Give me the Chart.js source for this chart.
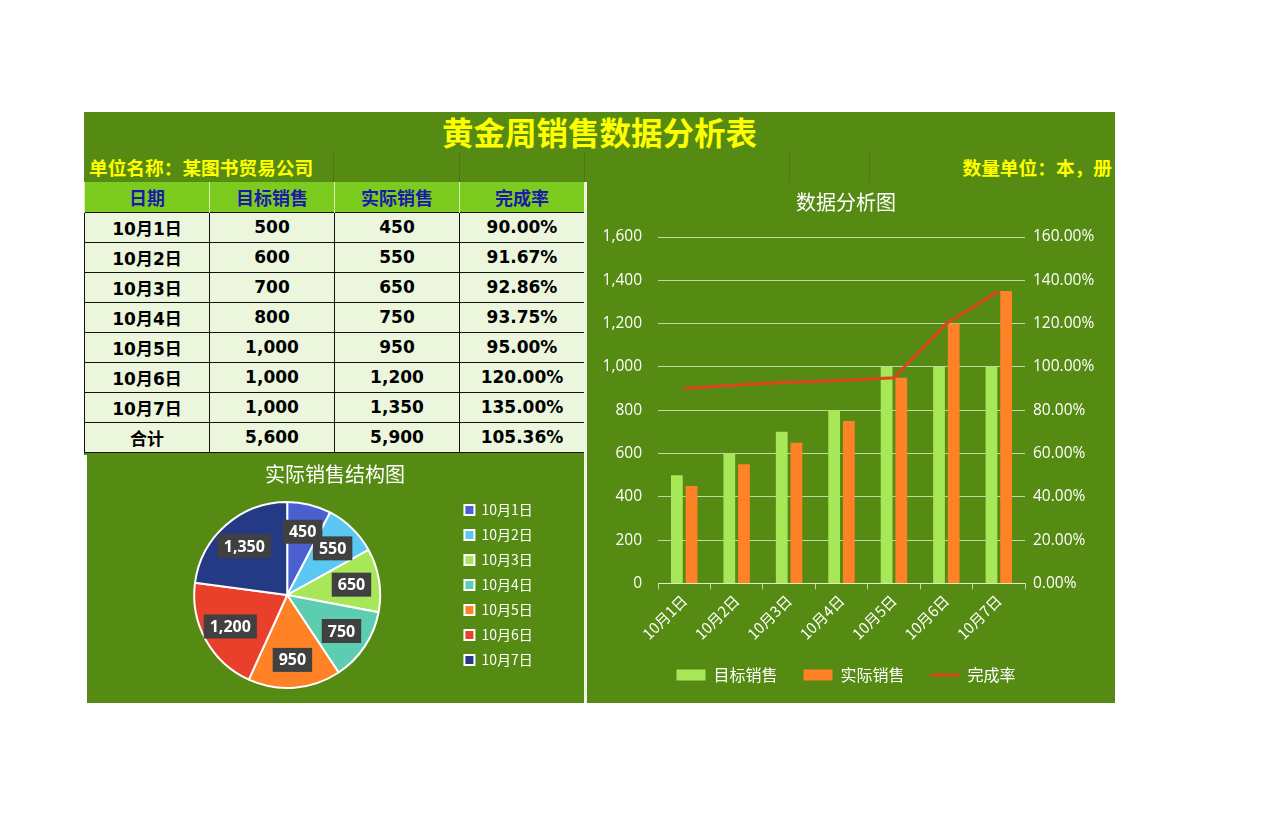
<!DOCTYPE html>
<html>
<head>
<meta charset="utf-8">
<script src="https://cdn.jsdelivr.net/npm/chart.js@4.4.1/dist/chart.umd.min.js"></script>
<style>
  body { margin: 0; background: #fff; width: 1280px; height: 837px; position: relative; overflow: hidden; }
  .blk { position: absolute; background: #558b12; }
  #titleBar { left: 84px; top: 112px; width: 1031px; height: 40px; color: #ffff00; font: bold 31.5px "Noto Sans CJK SC", sans-serif; text-align: center; line-height: 38px; }
  #infoBar { left: 84px; top: 152px; width: 1031px; height: 30px; color: #ffff00; font: bold 18.7px "Noto Sans CJK SC", sans-serif; line-height: 30px; }
  #infoBar .l { position: absolute; left: 5px; }
  #infoBar .r { position: absolute; right: 3px; }
  #infoBar .v { position: absolute; top: 0; width: 1px; height: 30px; background: rgba(0,0,0,0.12); }
  #tblBox { left: 84px; top: 182px; width: 500px; height: 273px; }
  #tbl { position: absolute; left: 0; top: 0; border-collapse: collapse; table-layout: fixed; width: 500px; }
  #tbl td, #tbl th { width: 125px; height: 30px; box-sizing: border-box; padding: 0; text-align: center; font: bold 17px "DejaVu Sans", "Noto Sans CJK SC", sans-serif; }
  #tbl th { background: #7ccc1f; color: #1a1aa8; font: bold 18px "Noto Sans CJK SC", sans-serif; border-left: 1px solid #d8f0b8; border-right: 1px solid #d8f0b8; }
  #tbl td { background: #ebf6dd; color: #000; border: 1.5px solid #111; }
  #pieBox { left: 87px; top: 455px; width: 497px; height: 248px; }
  #barBox { left: 587px; top: 182px; width: 528px; height: 521px; }
  #sep { position: absolute; left: 584px; top: 182px; width: 3px; height: 521px; background: #eef4e6; }
  canvas { position: absolute; left: 0; top: 0; }
</style>
</head>
<body>
<div class="blk" id="titleBar">黄金周销售数据分析表</div>
<div class="blk" id="infoBar">
  <span class="l">单位名称：某图书贸易公司</span>
  <div class="v" style="left:249px"></div>
  <div class="v" style="left:375px"></div>
  <div class="v" style="left:500px"></div>
  <div class="v" style="left:705px"></div>
  <div class="v" style="left:785px"></div>
  <span class="r">数量单位：本，册</span>
</div>
<div class="blk" id="tblBox"><table id="tbl"></table></div>
<div class="blk" id="pieBox"><canvas id="pieChart" width="497" height="248"></canvas></div>
<div class="blk" id="barBox"><canvas id="barChart" width="528" height="521"></canvas></div>
<div id="sep"></div>
<script>
const dates = ['10月1日', '10月2日', '10月3日', '10月4日', '10月5日', '10月6日', '10月7日'];
const targetSales = [500, 600, 700, 800, 1000, 1000, 1000];
const actualSales = [450, 550, 650, 750, 950, 1200, 1350];
const completionRate = [90.00, 91.67, 92.86, 93.75, 95.00, 120.00, 135.00];
const headers = ['日期', '目标销售', '实际销售', '完成率'];
const pieColors = ['#4b5fcf', '#5bc8f4', '#a8e858', '#5ccdb0', '#ff8226', '#e8402a', '#253a85'];

const fmt = v => v.toLocaleString('en-US');
const cjk = '"Noto Sans CJK SC", sans-serif';
const latin = '"Open Sans", "Noto Sans CJK SC", sans-serif';

// table
let html = '<tr>' + headers.map(h => '<th>' + h + '</th>').join('') + '</tr>';
dates.forEach((d, i) => {
  html += '<tr><td>' + d + '</td><td>' + fmt(targetSales[i]) + '</td><td>' + fmt(actualSales[i]) +
    '</td><td>' + completionRate[i].toFixed(2) + '%</td></tr>';
});
const totT = targetSales.reduce((a, b) => a + b, 0);
const totA = actualSales.reduce((a, b) => a + b, 0);
html += '<tr><td>合计</td><td>' + fmt(totT) + '</td><td>' + fmt(totA) + '</td><td>' + (totA / totT * 100).toFixed(2) + '%</td></tr>';
document.getElementById('tbl').innerHTML = html;

// labels in boxes on the pie
const pieLabels = {
  id: 'pieLabels',
  afterDatasetsDraw(chart) {
    const ctx = chart.ctx;
    const meta = chart.getDatasetMeta(0);
    ctx.save();
    ctx.font = 'bold 16px "Open Sans", sans-serif';
    ctx.textAlign = 'center';
    ctx.textBaseline = 'middle';
    meta.data.forEach((arc, i) => {
      const p = arc.getProps(['x', 'y', 'startAngle', 'endAngle', 'outerRadius'], true);
      const a = (p.startAngle + p.endAngle) / 2;
      const r = p.outerRadius * 0.7;
      const x = p.x + Math.cos(a) * r;
      const y = p.y + Math.sin(a) * r;
      const txt = fmt(chart.data.datasets[0].data[i]);
      const w = ctx.measureText(txt).width + 12;
      ctx.fillStyle = '#404040';
      ctx.fillRect(x - w / 2, y - 12, w, 24);
      ctx.fillStyle = '#fff';
      ctx.fillText(txt, x, y + 1);
    });
    ctx.restore();
  }
};

const defaultLabels = Chart.overrides.pie.plugins.legend.labels.generateLabels;

new Chart(document.getElementById('pieChart'), {
  type: 'pie',
  data: {
    labels: dates,
    datasets: [{
      data: actualSales,
      backgroundColor: pieColors,
      borderColor: '#ffffff',
      borderWidth: 2
    }]
  },
  options: {
    responsive: false,
    animation: false,
    layout: { padding: { left: 34, right: 35, top: 0, bottom: 14 } },
    plugins: {
      title: { display: true, text: '实际销售结构图', color: '#ffffff', font: { size: 20, family: cjk, weight: 'normal' }, padding: { top: 7, bottom: 15 } },
      legend: {
        position: 'right',
        title: { display: true, text: ' ', font: { size: 14 }, padding: { top: 4, bottom: 5 } },
        labels: {
          color: '#ffffff', boxWidth: 10, boxHeight: 10, padding: 11, font: { size: 14, family: cjk },
          generateLabels: chart => defaultLabels(chart).map(l => Object.assign(l, { text: l.text + '\u00a0\u00a0' }))
        }
      },
      tooltip: { enabled: false }
    }
  },
  plugins: [pieLabels]
});

const gridColor = 'rgba(230,240,215,0.75)';

new Chart(document.getElementById('barChart'), {
  type: 'bar',
  data: {
    labels: dates,
    datasets: [
      { label: '目标销售', data: targetSales, backgroundColor: '#a8e858', pointStyle: 'rect', categoryPercentage: 0.56, barPercentage: 0.8, yAxisID: 'y' },
      { label: '实际销售', data: actualSales, backgroundColor: '#ff8226', pointStyle: 'rect', categoryPercentage: 0.56, barPercentage: 0.8, yAxisID: 'y' },
      { label: '完成率', type: 'line', data: completionRate, borderColor: '#e0461e', backgroundColor: '#e0461e', borderWidth: 3, pointRadius: 0, pointStyle: 'line', tension: 0, yAxisID: 'y1', order: -1 }
    ]
  },
  options: {
    responsive: false,
    animation: false,
    layout: { padding: { left: 0, right: 10, top: 0, bottom: 10 } },
    scales: {
      x: {
        grid: { display: true, drawOnChartArea: false, color: gridColor, tickLength: 6 },
        border: { color: gridColor },
        ticks: { color: '#ffffff', font: { size: 15, family: cjk }, maxRotation: 45, minRotation: 45, padding: 2 },
        afterFit: s => { s.height -= 4; }
      },
      y: {
        position: 'left', min: 0, max: 1600,
        ticks: { stepSize: 200, color: '#ffffff', font: { size: 15.5, family: latin }, padding: 16, callback: v => fmt(v) },
        grid: { color: gridColor, drawTicks: false },
        border: { display: false },
        afterFit: s => { s.width = 71; }
      },
      y1: {
        position: 'right', min: 0, max: 160,
        ticks: { stepSize: 20, color: '#ffffff', font: { size: 15.5, family: latin }, padding: 8, callback: v => v.toFixed(2) + '%' },
        grid: { display: false, drawTicks: false },
        border: { display: false },
        afterFit: s => { s.width = 80; }
      }
    },
    plugins: {
      title: { display: true, text: '数据分析图', color: '#ffffff', font: { size: 20, family: cjk, weight: 'normal' }, padding: { top: 8, bottom: 23 } },
      legend: {
        position: 'bottom',
        labels: {
          color: '#ffffff', usePointStyle: true, pointStyleWidth: 29, boxHeight: 11, padding: 26,
          font: { size: 16, family: cjk },
          sort: (a, b) => a.datasetIndex - b.datasetIndex
        }
      },
      tooltip: { enabled: false }
    }
  }
});
</script>
</body>
</html>
